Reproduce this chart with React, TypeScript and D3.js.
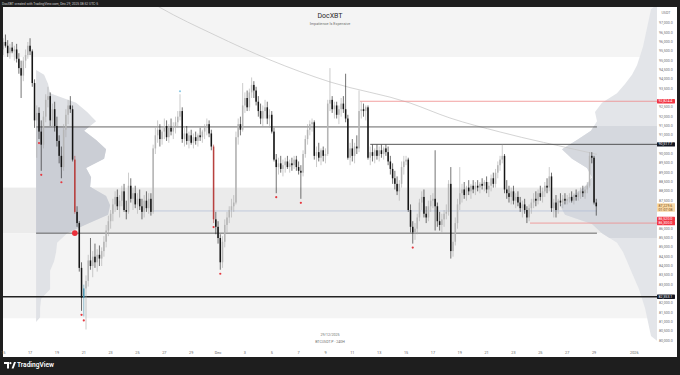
import React from "react";
import * as d3 from "d3";

// 4h candles BTCUSDT.P from 15 Nov 2025 00:00, prices in thousands USDT: [open, high, low, close]
const candles: number[][] = [
  [95.6,96.2,95.3,96.0],[96.0,96.4,95.7,95.8],[95.8,96.1,95.2,95.4],[95.4,95.9,95.1,95.7],[95.7,96.0,95.4,95.5],[95.5,95.8,95.0,95.6],
  [95.6,95.9,94.9,95.1],[95.1,95.4,94.3,94.6],[94.6,95.0,93.0,94.2],[94.2,95.2,93.9,95.0],[95.0,95.6,94.6,95.3],[95.3,96.0,95.1,95.8],
  [95.8,96.2,95.3,95.5],[95.5,95.6,93.6,93.8],[93.8,94.0,91.4,91.8],[91.8,92.6,89.8,92.2],[92.2,92.5,90.8,91.2],[91.2,91.8,89.1,90.5],
  [90.5,92.3,90.3,92.0],[92.0,93.2,91.7,92.9],[92.9,93.6,92.5,93.1],[93.1,93.3,91.5,91.8],[91.8,92.7,91.4,92.4],[92.4,92.8,91.2,91.5],
  [91.5,92.0,90.4,90.7],[90.7,91.0,89.5,89.9],[89.9,90.4,88.7,89.3],[89.3,91.6,89.1,91.3],[91.3,92.4,90.9,92.1],[92.1,92.9,91.6,92.6],
  [92.6,93.1,92.2,92.4],[92.4,92.6,89.6,89.7],[89.7,89.9,86.8,86.9],[86.9,87.2,86.1,86.3],[86.3,86.4,83.7,83.9],[83.9,84.2,81.6,82.3],
  [82.3,83.0,81.3,82.8],[82.8,83.5,80.6,83.2],[83.2,84.6,82.9,84.3],[84.3,85.5,83.8,84.0],[84.0,84.8,83.4,84.5],[84.5,85.2,83.9,84.2],
  [84.2,84.9,83.7,84.6],[84.6,85.1,84.0,84.4],[84.4,85.0,84.0,84.8],[84.8,85.6,84.5,85.3],[85.3,86.2,85.0,85.9],[85.9,86.7,85.6,86.4],
  [86.4,87.0,86.0,86.8],[86.8,87.6,86.4,87.3],[87.3,88.0,86.9,87.7],[87.7,88.1,87.0,87.2],[87.2,87.8,86.6,87.5],[87.5,88.3,87.2,88.0],
  [88.0,88.4,86.9,87.0],[87.0,87.5,86.5,86.9],[86.9,89.0,86.8,88.3],[88.3,88.7,87.4,87.6],[87.6,88.2,87.0,87.9],[87.9,88.3,87.1,87.3],
  [87.3,87.9,86.8,87.6],[87.6,88.1,87.0,87.2],[87.2,87.6,86.5,86.9],[86.9,87.8,86.6,87.5],[87.5,88.0,86.9,87.1],[87.1,87.9,86.8,87.6],
  [87.6,87.9,86.7,86.9],[86.9,90.5,86.8,90.3],[90.3,91.4,90.0,91.0],[91.0,91.8,90.6,91.3],[91.3,91.6,90.4,90.8],[90.8,91.5,90.5,91.2],
  [91.2,91.9,90.8,91.5],[91.5,91.8,90.7,90.9],[90.9,91.6,90.6,91.4],[91.4,91.9,91.0,91.2],[91.2,91.7,90.8,91.5],[91.5,92.0,91.1,91.7],
  [91.7,92.3,91.4,92.0],[92.0,93.2,91.8,92.3],[92.3,92.5,90.6,90.8],[90.8,91.4,90.4,91.1],[91.1,91.5,90.5,90.7],[90.7,91.2,90.3,91.0],
  [91.0,91.3,90.5,90.6],[90.6,91.1,90.3,90.9],[90.9,91.2,90.5,90.7],[90.7,91.1,90.4,91.0],[91.0,91.4,90.7,90.9],[90.9,91.3,90.6,91.2],
  [91.2,91.6,90.8,91.4],[91.4,91.9,91.0,91.6],[91.6,91.8,90.9,91.1],[91.1,91.3,90.2,90.4],[90.4,90.5,86.3,86.5],[86.5,86.9,85.7,86.1],
  [86.1,86.4,85.2,85.5],[85.5,85.7,83.8,84.2],[84.2,85.6,83.9,85.3],[85.3,86.5,85.0,86.2],[86.2,86.9,85.8,86.6],[86.6,87.2,86.3,87.0],
  [87.0,87.6,86.6,87.2],[87.2,87.8,86.9,87.4],[87.4,91.2,87.3,90.9],[90.9,91.9,90.5,91.6],[91.6,92.0,91.0,91.3],[91.3,93.8,91.2,92.6],
  [92.6,93.3,92.2,93.0],[93.0,93.4,92.3,92.5],[92.5,93.5,92.3,93.3],[93.3,94.1,93.0,93.7],[93.7,93.9,93.0,93.4],[93.4,93.6,92.6,92.8],
  [92.8,93.1,92.0,92.3],[92.3,92.7,91.6,91.9],[91.9,92.6,91.5,92.3],[92.3,92.9,91.9,92.5],[92.5,92.8,91.6,91.9],[91.9,92.4,91.4,92.1],
  [92.1,92.3,91.1,91.2],[91.2,91.4,89.6,89.7],[89.7,90.0,87.9,89.3],[89.3,89.8,88.9,89.5],[89.5,89.9,89.0,89.2],[89.2,89.7,88.8,89.4],
  [89.4,89.8,89.0,89.6],[89.6,89.9,89.2,89.3],[89.3,89.7,89.0,89.5],[89.5,89.8,89.1,89.4],[89.4,89.9,89.2,89.7],[89.7,89.9,89.1,89.3],
  [89.3,89.6,88.9,89.1],[89.1,89.4,87.6,89.0],[89.0,90.2,88.8,90.0],[90.0,91.0,89.8,90.8],[90.8,91.6,90.5,91.3],[91.3,91.8,91.0,91.6],
  [91.6,91.9,91.2,91.7],[91.7,91.8,89.7,89.9],[89.9,90.4,89.3,90.1],[90.1,90.6,89.6,89.8],[89.8,90.3,89.4,90.2],[90.2,90.4,89.6,89.9],
  [89.9,90.3,89.5,90.0],[90.0,92.9,89.9,92.7],[92.7,94.6,92.3,92.9],[92.9,93.1,92.2,92.4],[92.4,92.8,91.9,92.6],[92.6,92.8,91.9,92.1],
  [92.1,92.6,91.6,92.4],[92.4,93.0,92.0,92.7],[92.7,93.1,92.2,92.4],[92.4,94.3,91.7,91.9],[91.9,92.1,89.7,89.8],[89.8,90.6,89.4,90.3],
  [90.3,90.8,89.6,89.9],[89.9,90.6,89.5,90.4],[90.4,91.0,90.0,90.3],[90.3,93.4,90.1,92.3],[92.3,92.8,91.9,92.4],[92.4,92.7,92.0,92.3],
  [92.3,92.6,91.8,92.5],[92.5,92.6,89.7,89.8],[89.8,90.4,89.4,90.1],[90.1,90.5,89.6,89.9],[89.9,90.3,89.5,90.2],[90.2,90.5,89.7,89.9],
  [89.9,90.4,89.6,90.2],[90.2,90.5,89.8,90.0],[90.0,90.4,89.7,90.3],[90.3,90.5,89.9,90.1],[90.1,90.4,89.4,89.6],[89.6,89.9,88.9,89.2],
  [89.2,89.5,88.4,88.7],[88.7,89.1,88.1,88.4],[88.4,88.8,87.8,88.0],[88.0,88.6,87.5,88.4],[88.4,89.6,88.2,89.3],[89.3,89.9,88.9,89.6],
  [89.6,89.9,89.4,89.7],[89.7,89.8,86.9,87.0],[87.0,87.3,85.8,86.1],[86.1,86.4,85.2,85.8],[85.8,86.3,85.4,86.0],[86.0,86.8,85.7,86.6],
  [86.6,87.6,86.4,87.4],[87.4,88.0,87.0,87.7],[87.7,88.1,86.6,86.8],[86.8,87.2,86.3,86.6],[86.6,87.5,86.4,87.2],[87.2,87.8,86.9,87.5],
  [87.5,87.9,87.1,87.6],[87.6,90.2,85.9,87.2],[87.2,87.4,86.1,86.4],[86.4,86.9,85.9,86.2],[86.2,86.8,85.8,86.5],[86.5,87.0,86.1,86.8],
  [86.8,87.3,86.5,86.9],[86.9,88.6,86.7,88.4],[88.4,89.3,84.4,84.8],[84.8,85.7,84.5,85.3],[85.3,86.6,85.1,86.3],[86.3,87.6,86.0,87.3],
  [87.3,89.3,87.0,87.9],[87.9,88.4,87.4,88.1],[88.1,88.5,87.6,87.8],[87.8,88.3,87.5,88.2],[88.2,88.6,87.8,88.0],[88.0,88.4,87.6,88.3],
  [88.3,88.6,87.9,88.1],[88.1,88.5,87.8,88.3],[88.3,88.6,88.0,88.2],[88.2,88.5,87.9,88.4],[88.4,88.7,88.1,88.3],[88.3,88.6,88.0,88.5],
  [88.5,88.8,87.9,88.1],[88.1,88.5,87.7,88.3],[88.3,88.9,88.0,88.7],[88.7,89.0,88.2,88.4],[88.4,89.2,88.2,89.0],[89.0,89.6,88.7,89.4],
  [89.4,89.9,89.1,89.7],[89.7,90.5,89.5,89.9],[89.9,90.0,87.9,88.1],[88.1,88.6,87.6,87.9],[87.9,88.3,87.4,87.7],[87.7,88.2,87.3,88.0],
  [88.0,88.3,87.3,87.5],[87.5,87.9,87.1,87.7],[87.7,88.0,87.2,87.4],[87.4,87.7,86.9,87.1],[87.1,87.5,86.6,87.3],[87.3,87.6,86.8,87.0],
  [87.0,87.2,86.3,86.6],[86.6,87.3,86.4,87.1],[87.1,87.6,86.8,87.4],[87.4,87.9,87.1,87.6],[87.6,88.0,87.2,87.5],[87.5,88.1,87.3,87.9],
  [87.9,88.3,87.5,87.7],[87.7,88.2,87.4,88.0],[88.0,88.5,87.7,88.3],[88.3,88.7,87.9,88.2],[88.2,89.3,88.0,88.8],[88.8,89.0,86.9,87.1],
  [87.1,87.6,86.6,87.4],[87.4,87.8,86.6,87.0],[87.0,87.6,86.8,87.5],[87.5,87.9,87.2,87.4],[87.4,87.8,87.1,87.6],[87.6,87.9,87.3,87.5],
  [87.5,87.8,87.3,87.6],[87.6,87.9,87.4,87.7],[87.7,88.0,87.4,87.5],[87.5,87.9,87.3,87.8],[87.8,88.1,87.5,87.7],[87.7,88.0,87.5,87.9],
  [87.9,88.2,87.6,88.0],[88.0,88.3,87.7,87.9],[87.9,88.3,87.6,88.1],[88.1,88.5,87.9,88.3],[88.3,90.1,88.2,89.9],[89.9,90.1,89.5,89.8],
  [89.8,89.9,87.3,87.4],[87.4,87.6,86.7,87.2],
];

// time axis: day offsets from 15 Nov and their labels
const dayTickDays = [0, 2, 4, 6, 8, 10, 12, 14, 16, 18, 20, 22, 24, 26, 28, 30, 32, 34, 36, 38, 40, 42, 44, 47];
const dayTickLabels = ["15", "17", "19", "21", "23", "25", "27", "29", "Dec", "3", "5", "7", "9", "11", "13", "15", "17", "19", "21", "23", "25", "27", "29", "2026"];

// visible-range volume profile (rows of 500 from 80,000)
const rightProfileStart = 80.0;
const rightProfileVol = [6, 8, 10, 12, 15, 18, 22, 26, 30, 34, 40, 55, 65, 92, 97, 85, 72, 65, 70, 85, 95, 80, 66, 60, 62, 55, 40, 32, 25, 20, 17, 14, 12, 10, 8, 6];
// anchored (session) volume profile (rows of 500 from 81,000)
const leftProfileStart = 81.0;
const leftProfileVol = [4, 4, 5, 14, 14, 14, 18, 20, 21, 31, 51, 72, 74, 70, 54, 55, 50, 68, 70, 60, 48, 60, 51, 40, 14, 12, 8];
const leftProfileAnchorIdx = 14.7;

// value-area bounds
const vah = 91.45;
const val = 85.76;
const rightVah = 91.5;
const rightVal = 85.5;

// background zones [low, high]
const zoneLow = [95.2, 85.76, 81.2];
const zoneHigh = [98.5, 88.2, 85.76];

// horizontal levels
const levelPrices = [91.45, 85.76, 86.95, 90.5177, 92.8244, 86.3, 82.3531];
const levelStartIdx = [14.7, 14.7, 67, 164, 159.4, 235.4, -3];
const levelEndIdx = [265.3, 265.3, 265.3, 300, 300, 300, 300];

// anchored VWAP knots
const vwapIdx = [52, 70, 94.6, 119.2, 146, 181.8, 199.6, 222, 260.9, 265.3];
const vwapPrice = [99.2, 97.85, 96.37, 95.04, 93.86, 92.73, 91.93, 91.18, 90.1, 89.98];

// swing markers
const lowMarkIdx = [16, 17, 26, 35, 36, 94, 97, 122, 133, 183];
const highMarkIdx = [79];
const bigDotIdx = 32;
const bigDotPrice = 85.76;
const redCandleIdx = [32, 94];
const tealCandleIdx = [36];

// price axis tags
const tagPrices = [92.8244, 90.5177, 86.52, 86.3, 82.3531];
const lastPrice = 87.2296;
const countdown = "01:07:08";

const W = 680;
const H = 375;
const PL = 3, PR = 657, PT = 7, PB = 348;

export default function App() {
  const x = d3.scaleLinear().domain([0, 265]).range([3.2, 3.2 + 265 * 2.238]);
  const y = d3.scaleLinear().domain([80, 97]).range([340.7, 23.31]);
  const vol = d3.scaleLinear().domain([0, 100]).range([0, 100]);
  const fmt = d3.format(",.1f");
  const priceTicks = d3.range(80, 97.01, 0.5);
  const font = "Roboto, 'Noto Sans', sans-serif";

  const vwapLine = d3
    .line<number>()
    .x((d, i) => x(vwapIdx[i]))
    .y((d) => y(d))
    .curve(d3.curveMonotoneX);

  // profile outlines: rows centred in their price bucket, closed with zero at both ends
  const profilePts = (start: number, vols: number[]) => {
    const pts: [number, number][] = [[start, 0]];
    vols.forEach((v, k) => pts.push([start + k * 0.5 + 0.25, v]));
    pts.push([start + vols.length * 0.5, 0]);
    return pts;
  };
  const leftX0 = x(leftProfileAnchorIdx);
  const leftArea = d3
    .area<[number, number]>()
    .y((d) => y(d[0]))
    .x0(leftX0)
    .x1((d) => leftX0 + vol(d[1]))
    .curve(d3.curveLinear);
  const rightArea = d3
    .area<[number, number]>()
    .y((d) => y(d[0]))
    .x0(PR)
    .x1((d) => PR - vol(d[1]))
    .curve(d3.curveLinear);
  const leftPath = leftArea(profilePts(leftProfileStart, leftProfileVol)) || "";
  const rightPath = rightArea(profilePts(rightProfileStart, rightProfileVol)) || "";

  const levelStyles = [
    { c: "#555", w: 0.9 },
    { c: "#555", w: 0.9 },
    { c: "#aebbd6", w: 0.7 },
    { c: "#444", w: 0.9 },
    { c: "#f08a8a", w: 0.8 },
    { c: "#f08a8a", w: 0.8 },
    { c: "#222", w: 1.4 },
  ];
  const tagFill = ["#f23645", "#131722", "#f23645", "#f23645", "#131722"];

  const allTagPrices = [...tagPrices, lastPrice];
  const visibleTicks = priceTicks.filter((p) => allTagPrices.every((t) => Math.abs(y(p) - y(t)) > 4.5));

  const bw = 1.5;

  return (
    <svg width={W} height={H} style={{ position: "absolute", left: 0, top: 0 }} fontFamily={font}>
      <defs>
        <clipPath id="plot">
          <rect x={PL} y={PT} width={PR - PL} height={PB - PT} />
        </clipPath>
        <clipPath id="leftVA">
          <rect x={PL} y={y(vah)} width={PR - PL} height={y(val) - y(vah)} />
        </clipPath>
        <clipPath id="rightVA">
          <rect x={PL} y={y(rightVah)} width={PR - PL} height={y(rightVal) - y(rightVah)} />
        </clipPath>
      </defs>
      <rect x={0} y={0} width={W} height={H} fill="#1e1e1e" />
      <rect x={PL} y={PT} width={677 - PL} height={357 - PT} fill="#ffffff" />

      <g clipPath="url(#plot)">
        {zoneLow.map((lo, i) => (
          <rect
            key={"z" + i}
            x={PL}
            y={y(zoneHigh[i])}
            width={PR - PL}
            height={y(lo) - y(zoneHigh[i])}
            fill={i === 1 ? "#ebebeb" : "#f4f4f4"}
          />
        ))}

        {/* right volume profile */}
        <path d={rightPath} fill="#e3e5e9" />
        <path d={rightPath} fill="#d5d8de" clipPath="url(#rightVA)" />

        {/* left anchored profile */}
        <path d={leftPath} fill="#e0e2e6" />
        <path d={leftPath} fill="#cbced5" clipPath="url(#leftVA)" />

        <path d={vwapLine(vwapPrice) || ""} fill="none" stroke="#c9c9c9" strokeWidth={0.8} />

        {levelPrices.map((p, i) => (
          <line
            key={"l" + i}
            x1={Math.max(PL, x(levelStartIdx[i]))}
            x2={Math.min(PR, x(levelEndIdx[i]))}
            y1={y(p)}
            y2={y(p)}
            stroke={levelStyles[i].c}
            strokeWidth={levelStyles[i].w}
          />
        ))}

        {candles.map((c, i) => {
          const [o, h, l, cl] = c;
          const up = cl >= o;
          let col = up ? "#b5b5b5" : "#151515";
          if (redCandleIdx.includes(i)) col = "#b8413f";
          if (tealCandleIdx.includes(i)) col = "#4f98b3";
          const yt = y(Math.max(o, cl));
          const yb = y(Math.min(o, cl));
          const wickCol = up && !redCandleIdx.includes(i) && !tealCandleIdx.includes(i) ? "#a9a9a9" : col;
          return (
            <g key={"c" + i}>
              <line x1={x(i)} x2={x(i)} y1={y(h)} y2={y(l)} stroke={wickCol} strokeWidth={0.6} />
              <rect x={x(i) - bw / 2} y={yt} width={bw} height={Math.max(0.7, yb - yt)} fill={col} />
            </g>
          );
        })}

        {lowMarkIdx.map((i) => (
          <circle key={"lm" + i} cx={x(i)} cy={y(candles[i][2]) + 4} r={1.1} fill="#e53940" />
        ))}
        {highMarkIdx.map((i) => (
          <circle key={"hm" + i} cx={x(i)} cy={y(candles[i][1]) - 3} r={1.1} fill="#8fcbe6" />
        ))}
        <circle cx={x(bigDotIdx)} cy={y(bigDotPrice)} r={2.8} fill="#ea2f3a" />

        {/* title */}
        <text x={330} y={16} textAnchor="middle" dominantBaseline="middle" fontSize={7} fill="#2a2a2a">
          DocXBT
        </text>
        <text x={330} y={24} textAnchor="middle" dominantBaseline="middle" fontSize={3.8} fill="#707070">
          Impatience Is Expensive
        </text>
        <text x={330} y={335.5} textAnchor="middle" dominantBaseline="middle" fontSize={3.6} fill="#707070">
          29/12/2025
        </text>
        <text x={330} y={342.5} textAnchor="middle" dominantBaseline="middle" fontSize={3.6} fill="#707070">
          BTCUSDT.P · 240H
        </text>
      </g>

      {/* price axis */}
      <text x={666} y={13} textAnchor="middle" dominantBaseline="middle" fontSize={3.6} fill="#707070">
        USDT
      </text>
      {visibleTicks.map((p) => (
        <text key={"pt" + p} x={659} y={y(p)} dominantBaseline="middle" fontSize={3.6} fill="#707070">
          {fmt(p * 1000)}
        </text>
      ))}
      {tagPrices.map((p, i) => (
        <g key={"tag" + i}>
          <rect x={657} y={y(p) - 2.2} width={18} height={4.4} rx={0.6} fill={tagFill[i]} />
          <text x={658.6} y={y(p) + 0.1} dominantBaseline="middle" fontSize={3.6} fill="#ffffff">
            {fmt(p * 1000)}
          </text>
        </g>
      ))}
      <g>
        <rect x={657} y={y(lastPrice) - 2.4} width={18} height={8.4} rx={0.6} fill="#f8d9a6" />
        <text x={658.6} y={y(lastPrice)} dominantBaseline="middle" fontSize={3.6} fill="#7a4a12">
          {fmt(lastPrice * 1000)}
        </text>
        <text x={658.6} y={y(lastPrice) + 4} dominantBaseline="middle" fontSize={3.6} fill="#7a4a12">
          {countdown}
        </text>
      </g>

      {/* time axis */}
      {dayTickDays.map((d, i) => (
        <text key={"dt" + i} x={x(d * 6)} y={353.3} textAnchor="middle" dominantBaseline="middle" fontSize={3.8} fill="#666">
          {dayTickLabels[i]}
        </text>
      ))}

      {/* header & footer */}
      <text x={2} y={4} dominantBaseline="middle" fontSize={3.3} fill="#cfcfcf">
        DocXBT created with TradingView.com, Dec 29, 2025 08:52 UTC-5
      </text>
      <g fill="#ffffff">
        <path d="M4 362 h5 v6.5 h-2 v-4.5 h-3 z" />
        <circle cx={10.4} cy={363.2} r={1.1} />
        <path d="M11.6 368.5 l2.4 -6.5 h2 l-2.4 6.5 z" />
      </g>
      <text x={17} y={365.5} dominantBaseline="middle" fontSize={6.6} fontWeight={600} fill="#ffffff">
        TradingView
      </text>
    </svg>
  );
}
